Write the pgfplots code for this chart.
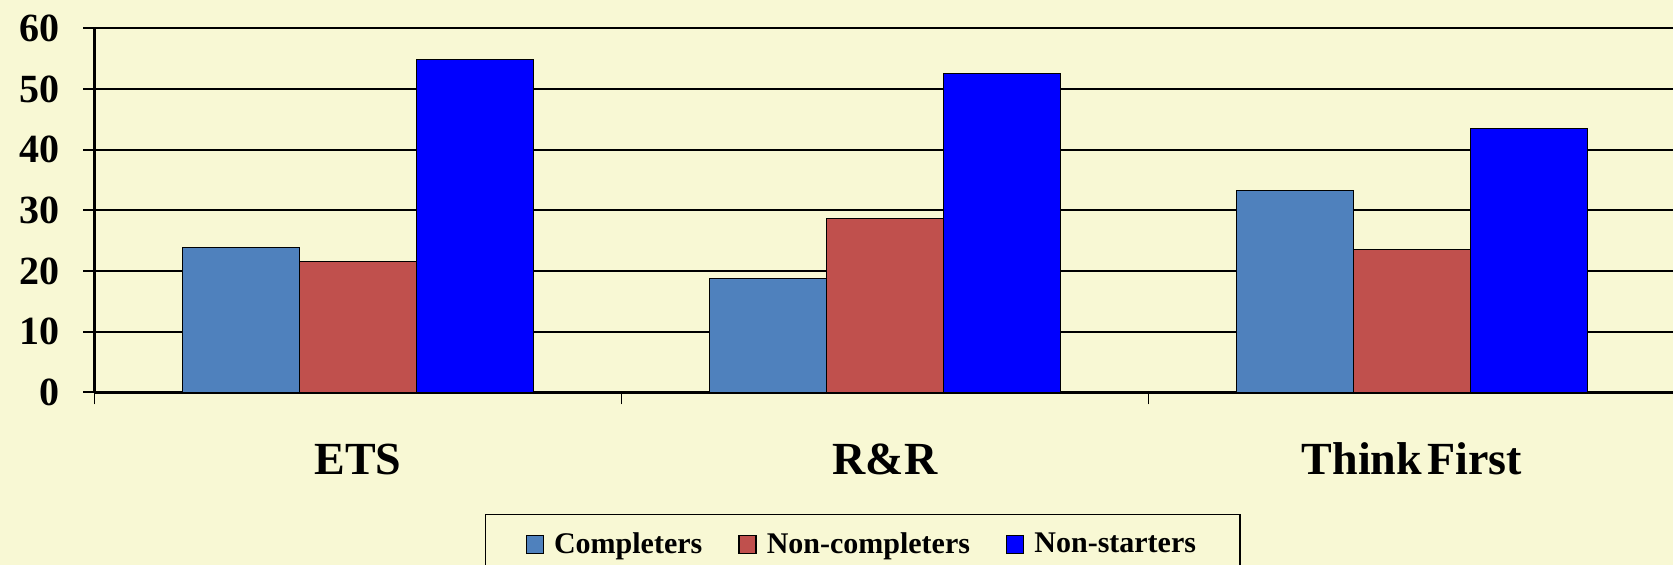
\documentclass[border=0pt]{standalone}
\usepackage{fontspec}
\setmainfont{Liberation Serif}
\usepackage{pgfplots}
\pgfplotsset{compat=1.18}
\definecolor{bg}{HTML}{F8F8D4}
\definecolor{cA}{HTML}{4F81BD}
\definecolor{cB}{HTML}{C0504D}
\definecolor{cC}{HTML}{0000FF}
\begin{document}
\begin{tikzpicture}
\fill[bg] (-47.25pt,-86.35pt) rectangle (789.25pt,196.15pt);
\begin{axis}[
  at={(0pt,0pt)}, anchor=south west,
  scale only axis, width=790.5pt, height=182pt,
  xmin=-0.5, xmax=2.5, ymin=0, ymax=60,
  ybar=0pt, bar width=58.5pt,
  axis x line*=bottom, axis y line*=left,
  axis line style={line width=1.3pt, -},
  xtick={0,1,2}, xticklabels={ETS,R\&R,Think\kern0.12em First},
  major x tick style={draw=none},
  minor xtick={-0.5,0.5,1.5,2.5},
  minor x tick style={black, line width=0.8pt},
  minor tick length=6pt,
  major tick length=5.5pt,
  tick align=outside,
  ytick={0,10,...,60},
  y tick style={black, line width=1pt},
  ymajorgrids, grid style={black, line width=1pt},
  /pgf/number format/assume math mode=true,
  yticklabel style={font=\fontsize{20}{20}\selectfont\bfseries, inner sep=0pt, anchor=east, xshift=-11.75pt},
  xticklabel style={font=\fontsize{23}{23}\selectfont\bfseries, inner sep=0pt, anchor=base, yshift=-35.5pt},
  legend style={at={(0.486,-0.3343)}, anchor=north, draw=black, line width=0.7pt, fill=bg,
    font=\fontsize{15}{18}\selectfont\bfseries, legend columns=3,
    /tikz/every even column/.append style={column sep=16pt},
    inner xsep=20pt, inner ysep=7pt},
]
\addplot[fill=cA, draw=black, line width=0.6pt, legend image code/.code={\draw[fill=cA, draw=black, line width=0.7pt] (0pt,-4.5pt) rectangle (8.5pt,4.5pt);}] coordinates {(0,23.9) (1,18.8) (2,33.3)};
\addplot[fill=cB, draw=black, line width=0.6pt, legend image code/.code={\draw[fill=cB, draw=black, line width=0.7pt] (0pt,-4.5pt) rectangle (8.5pt,4.5pt);}] coordinates {(0,21.5) (1,28.6) (2,23.5)};
\addplot[fill=cC, draw=black, line width=0.6pt, legend image code/.code={\draw[fill=cC, draw=black, line width=0.7pt] (0pt,-4.5pt) rectangle (8.5pt,4.5pt);}] coordinates {(0,54.9) (1,52.6) (2,43.5)};
\legend{\hspace{3pt}Completers, \hspace{3pt}Non-completers, \hspace{3pt}Non-starters}
\end{axis}
\pgfresetboundingbox
\path[use as bounding box] (-47.25pt,-86.35pt) rectangle (789.25pt,196.15pt);
\end{tikzpicture}
\end{document}
